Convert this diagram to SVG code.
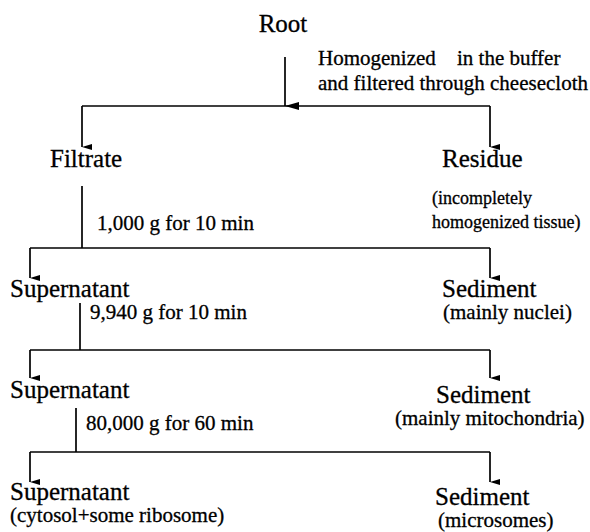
<svg xmlns="http://www.w3.org/2000/svg" width="590" height="532" viewBox="0 0 590 532">
<defs>
<marker id="ah" viewBox="0 0 8 14" refX="4" refY="14" markerWidth="8" markerHeight="14" markerUnits="userSpaceOnUse" orient="auto">
<path d="M0,0 L8,0 L4,14 Z" fill="#000"/>
</marker>
<marker id="ahs" viewBox="0 0 6 10" refX="3" refY="10" markerWidth="6" markerHeight="10" markerUnits="userSpaceOnUse" orient="auto">
<path d="M0,0 L6,0 L3,10 Z" fill="#000"/>
</marker>
<style>
text{font-family:"Liberation Serif","Times New Roman",serif;fill:#000;stroke:#000;stroke-width:0.3}
.big{font-size:25px}
.sm{font-size:21px}
.xs{font-size:18px}
.c{stroke:#000;stroke-width:1.7;fill:none}
.d{stroke:#000;stroke-width:1.7;fill:none;marker-end:url(#ahs)}
</style>
</defs>
<g id="connectors">
<line class="c" x1="285" y1="57" x2="285" y2="106" marker-end="url(#ah)"/>
<path class="c" d="M82,106 H490"/>
<line class="d" x1="82" y1="106" x2="82" y2="147"/>
<line class="d" x1="490" y1="106" x2="490" y2="147"/>
<line class="c" x1="82" y1="186" x2="82" y2="248"/>
<path class="c" d="M30,248 H490"/>
<line class="d" x1="30" y1="248" x2="30" y2="278"/>
<line class="d" x1="490" y1="248" x2="490" y2="278"/>
<line class="c" x1="80" y1="303" x2="80" y2="350"/>
<path class="c" d="M30,350 H490"/>
<line class="d" x1="30" y1="350" x2="30" y2="378"/>
<line class="d" x1="490" y1="350" x2="490" y2="378"/>
<line class="c" x1="76" y1="408" x2="76" y2="452"/>
<path class="c" d="M30,452 H490"/>
<line class="d" x1="30" y1="452" x2="30" y2="482"/>
<line class="d" x1="490" y1="452" x2="490" y2="482"/>
</g>
<g id="root"><text class="big" x="283" y="32" text-anchor="middle">Root</text></g>
<g id="step1"><text class="sm" x="318" y="65">Homogenized<tspan x="457">in the buffer</tspan></text>
<text class="sm" x="318" y="90">and filtered through cheesecloth</text></g>
<g id="filtrate"><text class="big" x="50" y="167">Filtrate</text></g>
<g id="residue"><text class="big" x="442" y="167">Residue</text>
<text class="xs" x="432" y="204">(incompletely</text>
<text class="xs" x="432" y="228">homogenized tissue)</text></g>
<g id="step2"><text class="sm" x="97" y="230">1,000 g for 10 min</text></g>
<g id="supernatant1"><text class="big" x="10" y="297">Supernatant</text></g>
<g id="sediment1"><text class="big" x="442" y="297">Sediment</text>
<text class="sm" x="443" y="319">(mainly nuclei)</text></g>
<g id="step3"><text class="sm" x="90" y="319">9,940 g for 10 min</text></g>
<g id="supernatant2"><text class="big" x="10" y="398">Supernatant</text></g>
<g id="sediment2"><text class="big" x="436" y="403">Sediment</text>
<text class="sm" x="395" y="425">(mainly mitochondria)</text></g>
<g id="step4"><text class="sm" x="86" y="430">80,000 g for 60 min</text></g>
<g id="supernatant3"><text class="big" x="10" y="500">Supernatant</text>
<text class="sm" x="10" y="522">(cytosol+some ribosome)</text></g>
<g id="sediment3"><text class="big" x="435" y="505">Sediment</text>
<text class="sm" x="438" y="527">(microsomes)</text></g>
</svg>
